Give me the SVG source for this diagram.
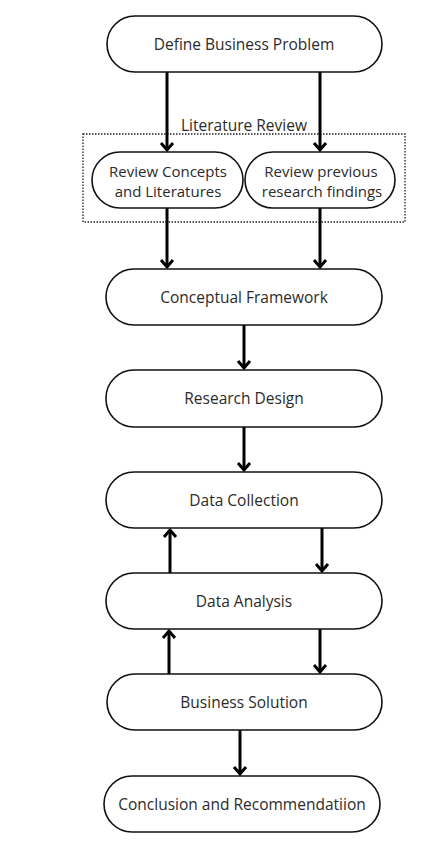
<svg xmlns="http://www.w3.org/2000/svg" width="433" height="842" viewBox="0 0 433 842">
<style>
.node{fill:#fff;stroke:#111;stroke-width:1.6}
.t{font-family:"Open Sans","Noto Sans",sans-serif;font-size:15.5px;font-weight:500;fill:#2b2b2b;text-anchor:middle;dominant-baseline:central}
.s{font-size:15px}
.edge{stroke:#000;stroke-width:3;fill:none;marker-end:url(#ah)}
</style>
<defs>
<marker id="ah" markerUnits="userSpaceOnUse" viewBox="-10 -10 20 20" markerWidth="20" markerHeight="20" refX="0" refY="0" orient="auto">
<path d="M-7,-6 L0,0 L-7,6" fill="none" stroke="#000" stroke-width="3" stroke-linejoin="miter"/>
</marker>
</defs>
<rect width="433" height="842" fill="#fff"/>
<g id="literature-review-group">
<rect x="83" y="134" width="322" height="88" fill="none" stroke="#222" stroke-width="1.3" stroke-dasharray="1.5 1.5"/>
<text class="t" x="244" y="125">Literature Review</text>
</g>
<g id="connectors">
<line class="edge" x1="167" y1="72" x2="167" y2="150"/>
<line class="edge" x1="320" y1="72" x2="320" y2="150"/>
<line class="edge" x1="167" y1="208" x2="167" y2="267"/>
<line class="edge" x1="320" y1="208" x2="320" y2="267"/>
<line class="edge" x1="244" y1="325" x2="244" y2="368"/>
<line class="edge" x1="244" y1="427" x2="244" y2="470"/>
<line class="edge" x1="170" y1="573" x2="170" y2="530"/>
<line class="edge" x1="322" y1="528" x2="322" y2="571"/>
<line class="edge" x1="169" y1="674" x2="169" y2="631"/>
<line class="edge" x1="320" y1="629" x2="320" y2="672"/>
<line class="edge" x1="240" y1="730" x2="240" y2="774"/>
</g>
<g id="define-business-problem">
<rect class="node" x="107" y="16" width="275" height="56" rx="28"/>
<text class="t" x="244" y="44">Define Business Problem</text>
</g>
<g id="review-concepts">
<rect class="node" x="92" y="152" width="151" height="56" rx="28"/>
<text class="t s" x="168" y="171">Review Concepts</text>
<text class="t s" x="168" y="191">and Literatures</text>
</g>
<g id="review-findings">
<rect class="node" x="245" y="152" width="150" height="56" rx="28"/>
<text class="t s" x="321" y="171">Review previous</text>
<text class="t s" x="322" y="191">research findings</text>
</g>
<g id="conceptual-framework">
<rect class="node" x="106" y="269" width="276" height="56" rx="28"/>
<text class="t" x="244" y="297">Conceptual Framework</text>
</g>
<g id="research-design">
<rect class="node" x="106" y="370" width="276" height="57" rx="28"/>
<text class="t" x="244" y="398">Research Design</text>
</g>
<g id="data-collection">
<rect class="node" x="106" y="472" width="276" height="56" rx="28"/>
<text class="t" x="244" y="500">Data Collection</text>
</g>
<g id="data-analysis">
<rect class="node" x="106" y="573" width="276" height="56" rx="28"/>
<text class="t" x="244" y="601">Data Analysis</text>
</g>
<g id="business-solution">
<rect class="node" x="107" y="674" width="275" height="56" rx="28"/>
<text class="t" x="244" y="702">Business Solution</text>
</g>
<g id="conclusion">
<rect class="node" x="104" y="776" width="276" height="56" rx="28"/>
<text class="t" x="242" y="804">Conclusion and Recommendatiion</text>
</g>
</svg>
